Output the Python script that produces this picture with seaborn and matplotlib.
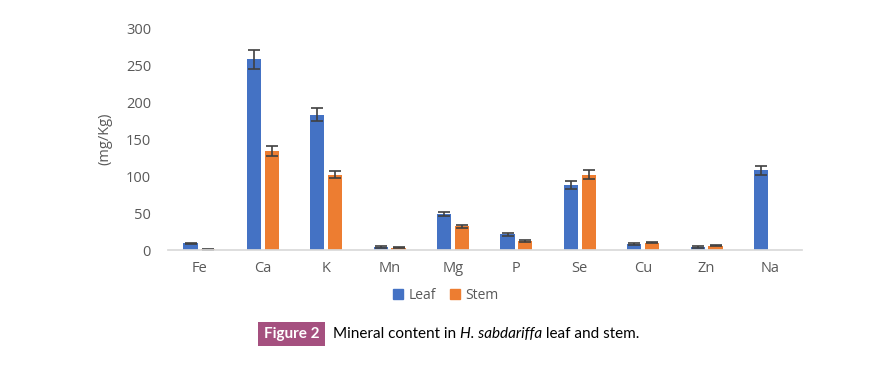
import matplotlib.pyplot as plt
import pandas as pd
import seaborn as sns
import numpy as np

# Data
minerals = ['Fe', 'Ca', 'K', 'Mn', 'Mg', 'P', 'Se', 'Cu', 'Zn', 'Na']
leaf = [9, 258, 183, 4, 49, 21, 88, 8, 4, 108]
stem = [1, 134, 102, 3, 32, 12, 102, 10, 6, 0]
leaf_err = [1, 13, 9, 1, 3, 2, 5, 1, 1, 6]
stem_err = [0.5, 7, 5, 0.5, 2, 1, 6, 1, 1, 0]

sns.set_theme(style="white")
plt.rcParams['font.family'] = ['Open Sans', 'DejaVu Sans']

df = pd.DataFrame({'Mineral': minerals * 2,
                   'Part': ['Leaf'] * len(minerals) + ['Stem'] * len(minerals),
                   'Value': leaf + stem})

fig = plt.figure(figsize=(8.83, 3.65), dpi=100)
ax = fig.add_axes([0.19, 0.315, 0.718, 0.608])

palette = {'Leaf': '#4472C4', 'Stem': '#ED7D31'}
sns.barplot(data=df, x='Mineral', y='Value', hue='Part', palette=palette,
            width=0.56, gap=0.2, errorbar=None, ax=ax, legend=False,
            linewidth=0, saturation=1)

# error bars on top of each bar
for cont, errs in zip(ax.containers, [leaf_err, stem_err]):
    xs = [p.get_x() + p.get_width() / 2 for p in cont.patches]
    hs = [p.get_height() for p in cont.patches]
    for x, h, e in zip(xs, hs, errs):
        if h == 0:
            continue
        ax.errorbar(x, h, yerr=e, fmt='none', ecolor='#404040',
                    elinewidth=1.2, capsize=4, capthick=1.2)

ax.set_ylim(0, 300)
ax.set_yticks(range(0, 301, 50))
ax.set_xlim(-0.5, len(minerals) - 0.5)
ax.set_xlabel('')
ax.set_ylabel('(mg/Kg)', fontsize=10.5, color='#595959', labelpad=10)
ax.tick_params(axis='both', colors='#595959', labelsize=10.5, length=0, pad=8)
ax.tick_params(axis='y', pad=12)
sns.despine(ax=ax, left=True)
ax.spines['bottom'].set_color('#D9D9D9')

# legend below the axes
handles = [plt.Rectangle((0, 0), 1, 1, color=palette[k]) for k in ['Leaf', 'Stem']]
fig.legend(handles, ['Leaf', 'Stem'], loc='center', bbox_to_anchor=(0.505, 0.19),
           ncol=2, frameon=False, fontsize=10, labelcolor='#595959',
           handlelength=0.7, handleheight=0.7, handletextpad=0.4, columnspacing=1.0)

# caption, pieced together so the species name is italic
fig.text(0.330, 0.085, 'Figure 2', fontsize=11, fontweight='bold', color='white',
         family='Lato', ha='center', va='center',
         bbox=dict(boxstyle='square,pad=0.35', fc='#A5507F', ec='none'))
renderer = fig.canvas.get_renderer()
x0 = 0.377
for part, style in [('Mineral content in ', 'normal'), ('H. sabdariffa', 'italic'),
                    (' leaf and stem.', 'normal')]:
    t = fig.text(x0, 0.085, part, fontsize=11, color='black', family='Lato',
                 style=style, ha='left', va='center')
    bb = t.get_window_extent(renderer)
    x0 = bb.x1 / fig.bbox.width

plt.savefig('out.png', dpi=100)
plt.close()
